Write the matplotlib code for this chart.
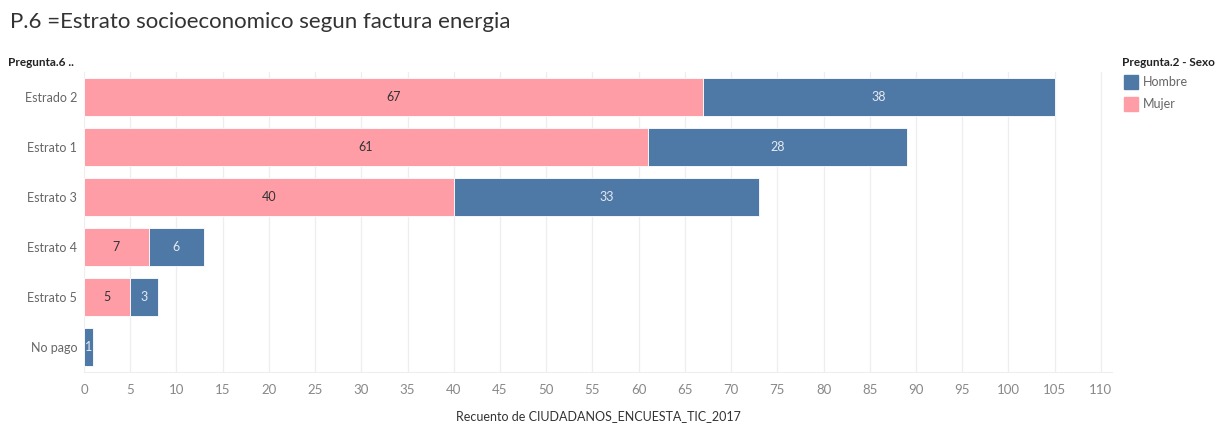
import matplotlib
matplotlib.use('Agg')
import matplotlib.pyplot as plt
import numpy as np

plt.rcParams['font.family'] = ['Lato', 'DejaVu Sans']

# data
categories = ['Estrado 2', 'Estrato 1', 'Estrato 3', 'Estrato 4', 'Estrato 5', 'No pago']
mujer = [67, 61, 40, 7, 5, 0]
hombre = [38, 28, 33, 6, 3, 1]
ticks = list(range(0, 111, 5))

pink = '#FF9DA7'
blue = '#4E79A7'

fig = plt.figure(figsize=(12.2, 4.26), dpi=100)
ax = fig.add_axes([84 / 1220, 1 - 372 / 426, (1112 - 84) / 1220, 300 / 426])

y = np.arange(len(categories))
ax.barh(y, mujer, height=0.77, color=pink, edgecolor='white', linewidth=0.6)
ax.barh(y, hombre, left=mujer, height=0.77, color=blue, edgecolor='white', linewidth=0.6)

for i in range(len(categories)):
    if mujer[i] > 0:
        ax.text(mujer[i] / 2, i, str(mujer[i]), ha='center', va='center', fontsize=9, color='#333333')
    if hombre[i] > 0:
        ax.text(mujer[i] + hombre[i] / 2, i, str(hombre[i]), ha='center', va='center', fontsize=9, color='#e6e9f0')

ax.set_ylim(5.5, -0.5)
ax.set_xlim(0, 111.2)
ax.set_yticks(y)
ax.set_yticklabels(categories, fontsize=9, color='#666666')
ax.set_xticks(ticks)
ax.set_xticklabels([str(t) for t in ticks], fontsize=9.5, color='#888888')
ax.tick_params(axis='both', length=0, pad=5)
ax.tick_params(axis='x', pad=9)
ax.xaxis.grid(True, color='#eeeeee', linewidth=0.9)
ax.set_axisbelow(True)
for s in ['top', 'right', 'left']:
    ax.spines[s].set_visible(False)
ax.spines['bottom'].set_color('#eeeeee')
ax.set_xlabel('Recuento de CIUDADANOS_ENCUESTA_TIC_2017', fontsize=9, color='#333333', labelpad=10)

fig.text(10 / 1220, 1 - 22 / 426, 'P.6 =Estrato socioeconomico segun factura energia',
         fontsize=16, color='#333333', va='center', ha='left')
fig.text(8 / 1220, 1 - 62 / 426, 'Pregunta.6 ..', fontsize=8.5, color='#222222',
         fontweight='bold', va='center', ha='left')

# legend
fig.text(1122 / 1220, 1 - 62 / 426, 'Pregunta.2 - Sexo', fontsize=8.5, color='#222222',
         fontweight='bold', va='center', ha='left')
for k, (lab, col) in enumerate([('Hombre', blue), ('Mujer', pink)]):
    yy = 82 + k * 22
    fig.patches.append(plt.Rectangle((1124 / 1220, 1 - (yy + 7) / 426), 14 / 1220, 14 / 426,
                                     transform=fig.transFigure, color=col))
    fig.text(1143 / 1220, 1 - yy / 426, lab, fontsize=9, color='#666666', va='center', ha='left')

fig.savefig('out.png', dpi=100)
